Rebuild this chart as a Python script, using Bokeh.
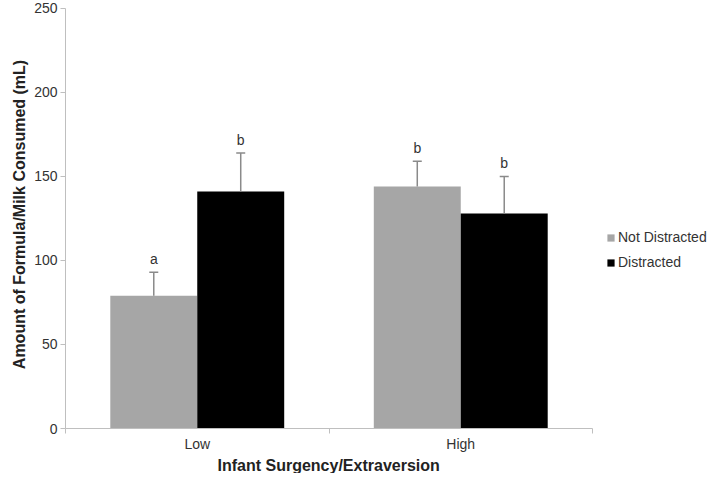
from bokeh.plotting import figure
from bokeh.models import Range1d, FixedTicker, Legend, LegendItem, ColumnDataSource, Title
from bokeh.core.properties import value
from bokeh.embed import file_html
from bokeh.resources import INLINE

# ---- data ----
categories = ["Low", "High"]
series = ["Not Distracted", "Distracted"]
not_distracted = [79, 144]
not_distracted_err = [14, 15]
distracted = [141, 128]
distracted_err = [23, 22]
letters_not = ["a", "b"]
letters_dis = ["b", "b"]
y_ticks = [0, 50, 100, 150, 200, 250]
x_title = "Infant Surgency/Extraversion"
y_title = "Amount of Formula/Milk Consumed (mL)"

FONT = "Liberation Sans"
GRAY = "#a6a6a6"
BLACK = "#000000"
ERR = "#8a8a8a"
AXIS = "#bfbfbf"

p = figure(width=709, height=473, output_backend="svg", toolbar_location=None,
           x_range=Range1d(0, 2.444), y_range=Range1d(0, 254.7),
           min_border_left=65, min_border_top=0, min_border_right=0, min_border_bottom=40)
p.outline_line_color = None
p.xgrid.visible = False
p.ygrid.visible = False
p.background_fill_color = "white"
p.border_fill_color = "white"

bw = 0.33
idx = list(range(len(categories)))
x_nd = [i + 0.5 - bw / 2 for i in idx]
x_d = [i + 0.5 + bw / 2 for i in idx]

src_nd = ColumnDataSource(dict(x=x_nd, top=not_distracted,
                               up=[v + e for v, e in zip(not_distracted, not_distracted_err)],
                               lab=letters_not))
src_d = ColumnDataSource(dict(x=x_d, top=distracted,
                              up=[v + e for v, e in zip(distracted, distracted_err)],
                              lab=letters_dis))

r_nd = p.vbar(x="x", top="top", bottom=0, width=bw, source=src_nd, fill_color=GRAY, line_color=None)
r_d = p.vbar(x="x", top="top", bottom=0, width=bw, source=src_d, fill_color=BLACK, line_color=None)

for src in (src_nd, src_d):
    p.segment(x0="x", y0="top", x1="x", y1="up", source=src, line_color=ERR, line_width=1.5)
    p.scatter(x="x", y="up", source=src, marker="dash", size=9, line_color=ERR, line_width=1.5)
    p.text(x="x", y="up", text="lab", source=src, text_align="center", text_baseline="bottom",
           y_offset=-5, text_font=value(FONT), text_font_size="14px", text_color="#333333")

# x axis
xa = p.xaxis[0]
xa.ticker = FixedTicker(ticks=[i + 0.5 for i in idx], minor_ticks=[0, 1, 2])
xa.major_label_overrides = {i + 0.5: c for i, c in zip(idx, categories)}
xa.bounds = (0, 2)
xa.major_tick_line_color = None
xa.major_tick_out = 5
xa.major_tick_in = 0
xa.minor_tick_in = 0
xa.minor_tick_out = 5
xa.minor_tick_line_color = AXIS
xa.axis_line_color = AXIS
xa.major_label_text_font = FONT
xa.major_label_text_font_size = "14px"
xa.major_label_text_color = "#333333"
xa.major_label_standoff = 2

# x-axis title, placed under the centre of the category axis (text ~222px wide)
p.add_layout(Title(text=x_title, align="left", offset=152, standoff=0,
                   text_font=FONT, text_font_size="16px", text_font_style="bold",
                   text_color="#222222"), "below")

# y axis
ya = p.yaxis[0]
ya.ticker = FixedTicker(ticks=y_ticks)
ya.bounds = (0, 250)
ya.major_tick_in = 0
ya.major_tick_out = 5
ya.minor_tick_line_color = None
ya.major_tick_line_color = AXIS
ya.axis_line_color = AXIS
ya.major_label_text_font = FONT
ya.major_label_text_font_size = "14px"
ya.major_label_text_color = "#333333"
ya.major_label_standoff = 3
ya.axis_label = y_title
ya.axis_label_text_font = FONT
ya.axis_label_text_font_size = "16px"
ya.axis_label_text_font_style = "bold"
ya.axis_label_text_color = "#222222"
ya.axis_label_standoff = 3

legend = Legend(items=[LegendItem(label=series[0], renderers=[r_nd]),
                       LegendItem(label=series[1], renderers=[r_d])],
                location=(541, 156))
legend.padding = 0
legend.margin = 0
legend.spacing = 5
legend.glyph_width = 9
legend.glyph_height = 9
legend.label_height = 20
legend.label_standoff = 3
legend.border_line_color = None
legend.background_fill_alpha = 0
legend.label_text_font = FONT
legend.label_text_font_size = "14px"
legend.label_text_color = "#333333"
p.add_layout(legend)

open("out.html", "w").write(file_html(p, INLINE))
